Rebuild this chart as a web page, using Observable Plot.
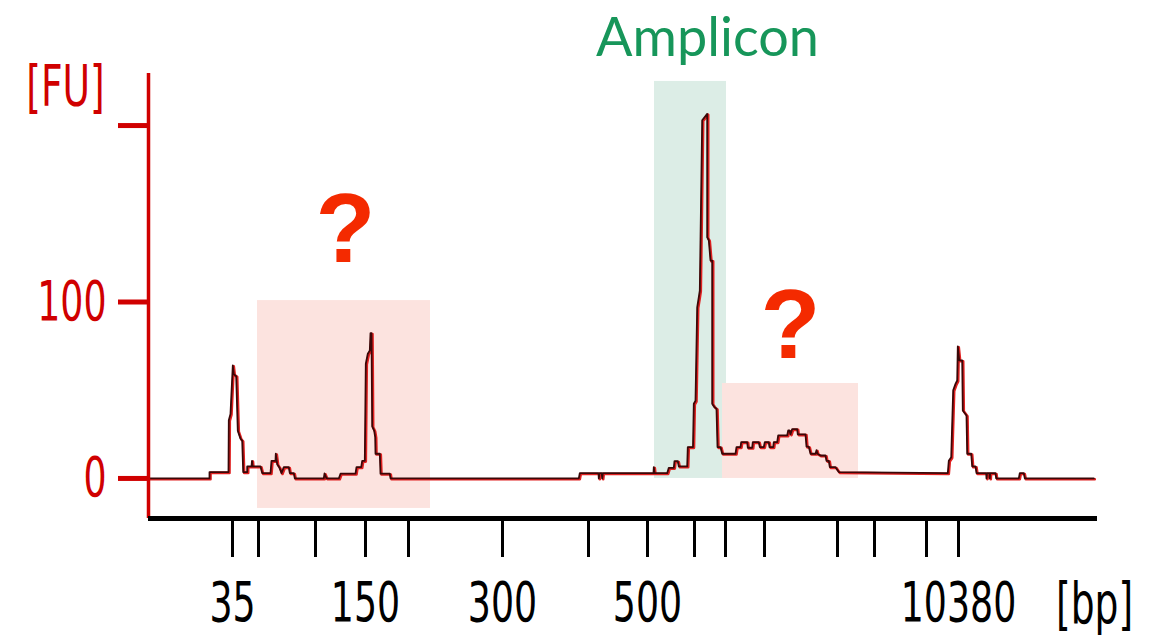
<!DOCTYPE html>
<html>
<head>
<meta charset="utf-8">
<script src="https://cdn.jsdelivr.net/npm/d3@7"></script>
<script src="https://cdn.jsdelivr.net/npm/@observablehq/plot@0.6"></script>
<style>
  html, body { margin: 0; padding: 0; background: #fff; }
  #chart svg { display: block; }
</style>
</head>
<body>
<div id="chart"></div>
<script>
// Migration position (arbitrary units) of each ladder band and its size in bp
const ladderPos = [8.4, 11.0, 16.7, 21.7, 26.0, 35.4, 44.0, 49.9, 54.6, 57.7, 61.6, 68.9, 72.6, 77.8, 81.0];
const ladderBp = [35, 50, 100, 150, 200, 300, 400, 500, 600, 700, 1000, 2000, 3000, 7000, 10380];
const labeledBp = [35, 150, 300, 500, 10380];
const fuTicks = [0, 100, 200];
const fuLabels = ["0", "100", ""];

// Electropherogram trace: [position, FU]
const trace = [
  [0,0],[6.1,0],[6.1,3.6],[8.0,3.6],[8.03,33],[8.2,36.6],[8.43,64],[8.53,59],[8.77,58],[8.93,27],[9.2,22.5],[9.37,21.5],[9.47,3.6],[9.87,3.6],[9.87,6.8],[10.3,6.8],[10.35,10],[10.4,6.8],[11.2,6.8],[11.37,3],[12.2,3],[12.3,10],[12.7,10],[12.73,14],[12.87,8],[13.1,6],[13.3,3],[13.53,6.4],[14.03,6.4],[14.13,3],[14.53,3],[14.63,0],[17.53,0],[17.6,2.8],[17.8,0],[19.03,0],[19.2,2.7],[20.7,2.7],[20.8,6.4],[21.27,6.4],[21.37,10],[21.63,10],[21.73,65],[21.93,70.7],[22.13,72.5],[22.2,82.3],[22.3,82.3],[22.37,29.5],[22.57,27],[22.67,23.4],[22.7,14],[23.13,14],[23.2,2.7],[24.13,2.7],[24.2,0],
  [43.03,0],[43.13,3],[45.0,3],[45.03,0],[45.1,3],[45.33,3],[45.37,0],[45.43,3],[50.5,3],[50.53,6.4],[50.6,3],[51.87,3],[52.03,6],[52.53,6],[52.6,9.8],[52.93,9.8],[53.03,6.8],[53.87,6.8],[53.93,17.8],[54.45,17.8],[54.53,42.3],[54.7,44],[54.87,97],[55.03,102.7],[55.13,106.5],[55.37,203],[55.87,206.6],[55.87,136.7],[56.03,135],[56.2,123.5],[56.37,123.5],[56.37,42.3],[56.6,40.4],[56.8,39.5],[56.9,17.8],[57.2,17.8],[57.37,14],[58.7,14],[58.8,17.8],[59.2,17.8],[59.27,20.6],[59.87,20.6],[59.93,17.4],[60.37,17.4],[60.43,20.6],[61.03,20.6],[61.13,17.8],[61.53,17.8],[61.63,20.6],[62.03,20.6],[62.1,17.8],[62.47,17.8],[62.53,20.6],[62.87,20.6],[62.97,24.4],[63.87,24.4],[63.97,27.2],[64.1,27.2],[64.2,25],[64.37,28],[64.87,28],[64.93,25],[65.7,25],[65.8,18],[66.03,18],[66.2,14],[66.7,14],[66.8,16],[66.9,14],[67.2,13],[67.7,13],[67.8,10],[68.03,10],[68.13,6.4],[68.7,6.4],[69.03,3.6],
  [79.93,3],[80.03,10],[80.27,12],[80.47,50],[80.7,53.6],[80.87,55.5],[80.93,74.8],[81.07,66.9],[81.37,66.9],[81.43,38.5],[81.8,35.7],[81.87,14],[82.27,14],[82.37,6.8],[82.7,6.8],[82.8,3],[83.77,3],[83.8,0],[83.85,3],[84.1,3],[84.13,0],[84.16,3],[84.7,3],[84.77,0],[87.03,0],[87.13,3],[87.53,3],[87.63,0],[94.53,0]
];

// Highlighted regions
const regionX1 = [10.9, 50.6, 57.4];
const regionX2 = [28.2, 57.8, 71.0];
const regionY1 = [-17, 0, 0];
const regionY2 = [100.8, 225, 53.8];
const regionKind = ["unknown", "amplicon", "unknown"];

// Annotations
const questionX = [19.7, 64.2];
const questionY = [140.5, 86];
const ampliconLabel = {x: 55.9, y: 249.3, text: "Amplicon"};

const xDomain = [0, 94.9];
const yDomain = [-22.7, 229.5];

const RED = "#d00000";
const FONT = "'DejaVu Sans', sans-serif";
const NARROW = 0.66;

const regions = regionX1.map((x1, i) => ({x1, x2: regionX2[i], y1: regionY1[i], y2: regionY2[i], kind: regionKind[i]}));
const ticks = ladderPos.map((p, i) => ({p, bp: ladderBp[i]}));
const tickLabel = new Map(ticks.map(t => [t.p, labeledBp.includes(t.bp) ? String(t.bp) : ""]));
const fuLabel = new Map(fuTicks.map((t, i) => [t, fuLabels[i]]));

const chart = Plot.plot({
  width: 1159,
  height: 638,
  marginLeft: 148,
  marginRight: 62,
  marginTop: 73,
  marginBottom: 120,
  x: {domain: xDomain, axis: null},
  y: {domain: yDomain, axis: null},
  style: {fontFamily: FONT, background: "#fff"},
  marks: [
    Plot.rect(regions, {
      x1: "x1", x2: "x2", y1: "y1", y2: "y2",
      fill: d => d.kind === "amplicon" ? "#dcede6" : "#fce3df"
    }),
    Plot.line(trace, {x: d => d[0], y: d => d[1], stroke: "#e02020", strokeWidth: 2.6, dx: 1, dy: 0.8}),
    Plot.line(trace, {x: d => d[0], y: d => d[1], stroke: "#3a0808", strokeWidth: 1.8}),
    // y axis
    Plot.ruleX([xDomain[0]], {y1: yDomain[0], y2: yDomain[1], stroke: RED, strokeWidth: 3.5}),
    Plot.axisY({
      ticks: fuTicks, tickSize: 30, tickPadding: 12, tickFormat: d => fuLabel.get(d),
      color: RED, strokeWidth: 5, fontSize: 55, label: null, fontFamily: FONT
    }),
    Plot.text(["[FU]"], {frameAnchor: "top-left", textAnchor: "middle", lineAnchor: "middle", dx: -83, dy: 14, text: d => d, fill: RED, fontSize: 57, fontFamily: FONT}),
    // x axis
    Plot.ruleY([yDomain[0]], {x1: xDomain[0], x2: xDomain[1], stroke: "#000", strokeWidth: 5}),
    Plot.axisX({
      ticks: ladderPos, tickSize: 39, tickPadding: 24, tickFormat: d => tickLabel.get(d),
      color: "#000", strokeWidth: 3, fontSize: 55, label: null, fontFamily: FONT
    }),
    Plot.text(["[bp]"], {x: 94.6, frameAnchor: "bottom", textAnchor: "middle", lineAnchor: "middle", dy: 86, text: d => d, fill: "#000", fontSize: 57, fontFamily: FONT}),
    // annotations
    Plot.text(questionX, {x: d => d, y: (d, i) => questionY[i], text: () => "?", fill: "#f42a00", fontSize: 98, fontWeight: "bold", fontFamily: "'Liberation Sans', Arial, sans-serif"}),
    Plot.text([ampliconLabel], {x: "x", y: "y", text: "text", fill: "#17965a", fontSize: 54, fontFamily: "Lato, 'Open Sans', sans-serif"})
  ]
});

document.getElementById("chart").appendChild(chart);

// Narrow the instrument-style labels (digits and bracketed units) horizontally
d3.select(chart).selectAll("text")
  .filter(function() { return /^[\d\[]/.test(this.textContent); })
  .each(function() {
    const w = this.getComputedTextLength();
    if (w > 0) {
      this.setAttribute("textLength", (w * NARROW).toFixed(1));
      this.setAttribute("lengthAdjust", "spacingAndGlyphs");
    }
  });
</script>
</body>
</html>
